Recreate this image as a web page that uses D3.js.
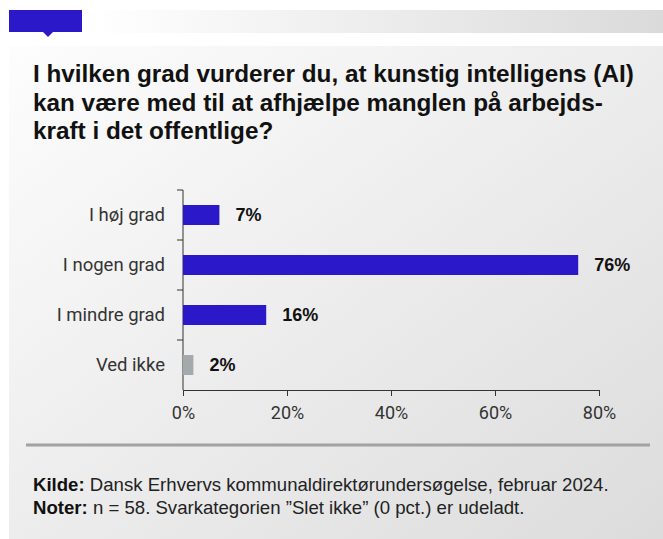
<!DOCTYPE html>
<html>
<head>
<meta charset="utf-8">
<script src="https://cdn.jsdelivr.net/npm/d3@7"></script>
<style>
  body { margin: 0; background: #fff; }
  svg { display: block; }
</style>
</head>
<body>
<div id="chart"></div>
<script>
const categories = ["I høj grad", "I nogen grad", "I mindre grad", "Ved ikke"];
const values = [7, 76, 16, 2];
const barColors = ["#2b18c8", "#2b18c8", "#2b18c8", "#a4a9ab"];
const xTicks = [0, 20, 40, 60, 80];
const titleLines = [
  "I hvilken grad vurderer du, at kunstig intelligens (AI)",
  "kan være med til at afhjælpe manglen på arbejds-",
  "kraft i det offentlige?"
];

const width = 663, height = 539;
const svg = d3.select("#chart").append("svg")
  .attr("width", width).attr("height", height);

const defs = svg.append("defs");
const panelGrad = defs.append("linearGradient").attr("id", "panelGrad")
  .attr("x1", "0").attr("y1", "0").attr("x2", "1").attr("y2", "1");
panelGrad.append("stop").attr("offset", "0").attr("stop-color", "#fdfdfd");
panelGrad.append("stop").attr("offset", "1").attr("stop-color", "#dcdcdc");
const bandGrad = defs.append("linearGradient").attr("id", "bandGrad");
bandGrad.append("stop").attr("offset", "0").attr("stop-color", "#ffffff");
bandGrad.append("stop").attr("offset", "1").attr("stop-color", "#dadada");

// header strip
svg.append("rect").attr("x", 92).attr("y", 10).attr("width", width - 92).attr("height", 23)
  .attr("fill", "url(#bandGrad)");
svg.append("rect").attr("x", 9).attr("y", 10).attr("width", 73).attr("height", 22)
  .attr("fill", "#2b18c8");
svg.append("path").attr("d", "M43,32 L48,37 L53,32 Z").attr("fill", "#2b18c8");

// panel
svg.append("rect").attr("x", 9).attr("y", 46).attr("width", width - 9).attr("height", height - 46)
  .attr("fill", "url(#panelGrad)");

// title
svg.append("g").selectAll("text").data(titleLines).join("text")
  .attr("x", 33).attr("y", (d, i) => 82 + i * 28.5)
  .attr("font-family", "'Liberation Sans', Arial, sans-serif")
  .attr("font-weight", 700).attr("font-size", 24.3).attr("fill", "#111")
  .text(d => d);

const x = d3.scaleLinear().domain([0, 80]).range([183, 599]);
const y = d3.scaleBand().domain(categories).range([190, 390]).paddingInner(0.6).paddingOuter(0.3);

// y axis line and category ticks
const yAxis = svg.append("g").attr("transform", "translate(183,0)");
yAxis.append("line").attr("y1", 190).attr("y2", 390).attr("stroke", "#333");
const bandStep = y.step();
yAxis.selectAll("line.tk").data(categories).join("line").attr("class", "tk")
  .attr("x1", -6).attr("x2", 0)
  .attr("y1", d => y(d) - y.paddingInner() * bandStep / 2)
  .attr("y2", d => y(d) - y.paddingInner() * bandStep / 2)
  .attr("stroke", "#333");
yAxis.selectAll("text").data(categories).join("text")
  .attr("x", -18).attr("y", d => y(d) + y.bandwidth() / 2)
  .attr("dy", "0.35em").attr("text-anchor", "end")
  .attr("font-family", "Roboto, 'Liberation Sans', sans-serif")
  .attr("font-size", 18.5).attr("fill", "#333")
  .text(d => d);

// x axis
const xAxis = svg.append("g").attr("transform", "translate(0,390)")
  .call(d3.axisBottom(x).tickValues(xTicks).tickFormat(d => d + "%").tickSize(6).tickSizeOuter(0));
xAxis.select(".domain").attr("stroke", "#333");
xAxis.selectAll(".tick line").attr("stroke", "#333");
xAxis.selectAll(".tick text")
  .attr("font-family", "Roboto, 'Liberation Sans', sans-serif")
  .attr("font-size", 18).attr("fill", "#333").attr("dy", "1.1em");

// bars
svg.append("g").selectAll("rect").data(values).join("rect")
  .attr("x", x(0)).attr("y", (d, i) => y(categories[i]))
  .attr("width", d => x(d) - x(0)).attr("height", y.bandwidth())
  .attr("fill", (d, i) => barColors[i]);

svg.append("g").selectAll("text").data(values).join("text")
  .attr("x", d => x(d) + 16).attr("y", (d, i) => y(categories[i]) + y.bandwidth() / 2)
  .attr("dy", "0.35em")
  .attr("font-family", "'Liberation Sans', Arial, sans-serif")
  .attr("font-weight", 700).attr("font-size", 18).attr("fill", "#111")
  .text(d => d + "%");

// separator
svg.append("line").attr("x1", 26).attr("x2", 650).attr("y1", 445).attr("y2", 445)
  .attr("stroke", "#a2a2a2").attr("stroke-width", 3);

// footer
const notes = [["Kilde:", " Dansk Erhvervs kommunaldirektørundersøgelse, februar 2024."],
               ["Noter:", " n = 58. Svarkategorien \u201dSlet ikke\u201d (0 pct.) er udeladt."]];
const foot = svg.append("g").selectAll("text").data(notes).join("text")
  .attr("x", 33).attr("y", (d, i) => 491 + i * 23)
  .attr("font-family", "'Liberation Sans', Arial, sans-serif")
  .attr("font-size", 18.6).attr("fill", "#111");
foot.append("tspan").attr("font-weight", 700).text(d => d[0]);
foot.append("tspan").attr("fill", "#222").text(d => d[1]);
</script>
</body>
</html>
